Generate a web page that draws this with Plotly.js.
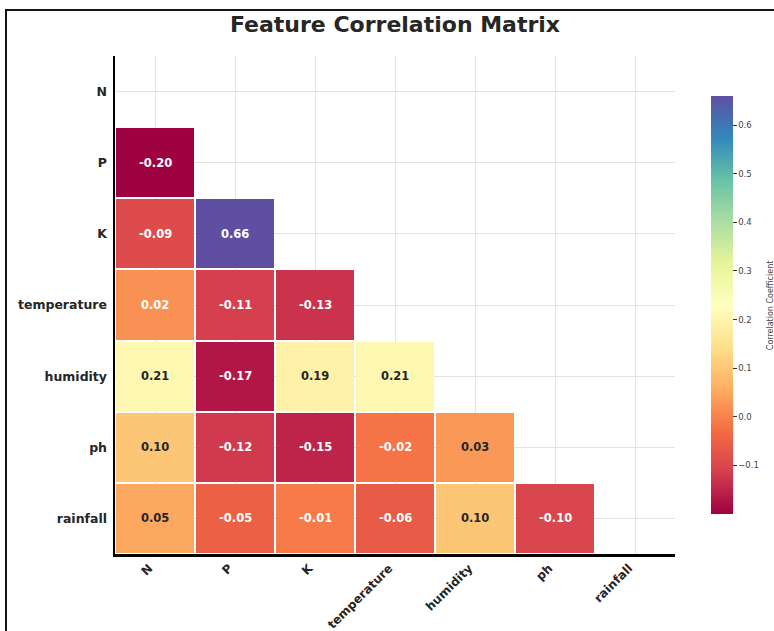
<!DOCTYPE html>
<html>
<head>
<meta charset="utf-8">
<script src="https://cdn.plot.ly/plotly-3.0.1.min.js"></script>
<style>
  html, body { margin: 0; padding: 0; background: #fff; overflow: hidden; }
  #wrap { position: relative; width: 774px; height: 631px; }
  #chart { position: absolute; left: 0; top: 0; width: 774px; height: 631px; }
  #frame { position: absolute; left: 5px; top: 9px; width: 900px; height: 800px;
           border-left: 2.5px solid #151515; border-top: 2.5px solid #151515;
           pointer-events: none; }
</style>
</head>
<body>
<div id="wrap">
  <div id="chart"></div>
  <div id="frame"></div>
</div>
<script>
// ---- data ----
const features = ['N', 'P', 'K', 'temperature', 'humidity', 'ph', 'rainfall'];
const corrN = [];
const corrP = [-0.20];
const corrK = [-0.09, 0.66];
const corrTemperature = [0.02, -0.11, -0.13];
const corrHumidity = [0.21, -0.17, 0.19, 0.21];
const corrPh = [0.10, -0.12, -0.15, -0.02, 0.03];
const corrRainfall = [0.05, -0.05, -0.01, -0.06, 0.10, -0.10];
const colorbarTicks = [-0.1, 0.0, 0.1, 0.2, 0.3, 0.4, 0.5, 0.6];
const colorbarTitle = 'Correlation Coefficient';
const chartTitle = 'Feature Correlation Matrix';

const rows = [corrN, corrP, corrK, corrTemperature, corrHumidity, corrPh, corrRainfall];
const z = rows.map(r => features.map((f, j) => (j < r.length ? r[j] : null)));
const allVals = [].concat(...rows);
const zmin = Math.min(...allVals);
const zmax = Math.max(...allVals);

const spectral = [
  [0.0, '#9e0142'], [0.1, '#d53e4f'], [0.2, '#f46d43'], [0.3, '#fdae61'],
  [0.4, '#fee08b'], [0.5, '#ffffbf'], [0.6, '#e6f598'], [0.7, '#abdda4'],
  [0.8, '#66c2a5'], [0.9, '#3288bd'], [1.0, '#5e4fa2']
];

const annotations = [];
rows.forEach((r, i) => {
  r.forEach((v, j) => {
    const light = (v < 0.025 || v > 0.5);
    annotations.push({
      x: features[j], y: features[i], xref: 'x', yref: 'y',
      text: v.toFixed(2), showarrow: false,
      font: { family: 'DejaVu Sans', size: 11.5, weight: 'bold', color: light ? '#ffffff' : '#262626' }
    });
  });
});
// colorbar title as a rotated label at the far right
annotations.push({
  xref: 'paper', yref: 'paper', x: 1.17, y: 0.5,
  xanchor: 'center', yanchor: 'middle',
  text: colorbarTitle, textangle: -90, showarrow: false,
  font: { family: 'DejaVu Sans', size: 8, color: '#444' }
});

const trace = {
  type: 'heatmap',
  x: features, y: features, z: z,
  zmin: zmin, zmax: zmax,
  colorscale: spectral,
  xgap: 2, ygap: 2,
  hoverongaps: false,
  colorbar: {
    x: 1.064, xanchor: 'left', xref: 'paper',
    y: 0.5, yanchor: 'middle',
    len: 0.84, lenmode: 'fraction', thickness: 22,
    xpad: 0, ypad: 0,
    outlinewidth: 0,
    ticks: 'outside', ticklen: 4, tickcolor: '#333', tickwidth: 1,
    tickvals: colorbarTicks, tickformat: '.1f',
    tickfont: { family: 'DejaVu Sans', size: 8.5, color: '#444' }
  }
};

const axisCommon = {
  type: 'category',
  showgrid: true, gridcolor: '#e3e3e3', gridwidth: 1,
  zeroline: false,
  ticks: ''
};

const layout = {
  width: 774, height: 631,
  margin: { l: 115, r: 99, t: 56, b: 77, autoexpand: false },
  paper_bgcolor: '#ffffff', plot_bgcolor: '#ffffff',
  title: {
    text: chartTitle,
    font: { family: 'DejaVu Sans', size: 22, weight: 'bold', color: '#262626' },
    x: 0.5, xref: 'paper', xanchor: 'center',
    y: 0.961, yref: 'container', yanchor: 'middle'
  },
  xaxis: Object.assign({}, axisCommon, {
    categoryorder: 'array', categoryarray: features,
    range: [-0.5, 6.5],
    tickangle: -45,
    tickfont: { family: 'DejaVu Sans', size: 12, weight: 'bold', color: '#262626' },
    showline: true, linecolor: '#000', linewidth: 2.5,
    ticklabelstandoff: 0,
    ticklabelshift: -6
  }),
  yaxis: Object.assign({}, axisCommon, {
    categoryorder: 'array', categoryarray: features,
    range: [6.5, -0.5],
    tickfont: { family: 'DejaVu Sans', size: 12.5, weight: 'bold', color: '#262626' },
    showline: true, linecolor: '#000', linewidth: 2.5,
    ticklabelstandoff: 3
  }),
  annotations: annotations,
  showlegend: false
};

Plotly.newPlot('chart', [trace], layout, { displayModeBar: false, staticPlot: true });
</script>
</body>
</html>
